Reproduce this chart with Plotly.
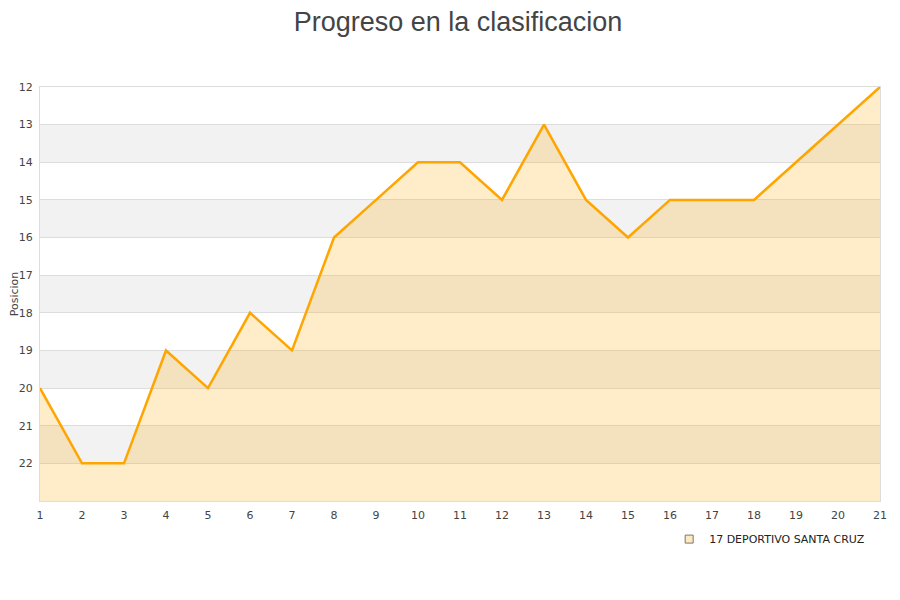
import plotly.graph_objects as go

jornadas = list(range(1, 22))
posiciones = [20, 22, 22, 19, 20, 18, 19, 16, 15, 14, 14, 15, 13, 15, 16, 15, 15, 15, 14, 13, 12]
equipo = "17 DEPORTIVO SANTA CRUZ"
fondo = 23

fig = go.Figure()

# alternating grey bands
for y0 in [13, 15, 17, 19, 21]:
    fig.add_shape(type="rect", xref="paper", yref="y", x0=0, x1=1, y0=y0, y1=y0 + 1,
                  fillcolor="#f2f2f2", line_width=0, layer="below")

# baseline for the area
fig.add_trace(go.Scatter(x=jornadas, y=[fondo] * len(jornadas), mode="lines",
                         line=dict(width=0), showlegend=False, hoverinfo="skip"))
fig.add_trace(go.Scatter(x=jornadas, y=posiciones, mode="lines", fill="tonexty",
                         fillcolor="rgba(255,165,0,0.21)",
                         line=dict(color="#ffa500", width=2.5), showlegend=False))
# legend entry
fig.add_trace(go.Scatter(x=[None], y=[None], mode="markers", name=equipo,
                         marker=dict(symbol="square", size=8, color="#ffe9bf",
                                     line=dict(color="#777777", width=1))))

fig.update_layout(
    width=900, height=600,
    paper_bgcolor="white", plot_bgcolor="white",
    margin=dict(l=32, r=28, t=79, b=107),
    title=dict(text="Progreso en la clasificacion", x=0.5, xanchor="center",
               y=0.993, yanchor="top", pad=dict(t=0),
               font=dict(family="Liberation Sans", size=27, color="#444444")),
    font=dict(family="DejaVu Sans", size=11, color="#444444"),
    legend=dict(orientation="h", x=0.749, y=-0.057, xanchor="left", yanchor="top",
                font=dict(size=11, color="#222222"), bgcolor="rgba(0,0,0,0)"),
    xaxis=dict(range=[1, 21], tickmode="array", tickvals=jornadas, showgrid=False,
               showline=True, linecolor="#dddddd", linewidth=1, mirror=True,
               zeroline=False, ticks="", tickfont=dict(size=11), automargin=False,
               ticklabelstandoff=4),
    yaxis=dict(range=[fondo, 12], tickmode="array", tickvals=list(range(12, 23)),
               showgrid=True, gridcolor="#dddddd", gridwidth=1,
               showline=True, linecolor="#dddddd", linewidth=1, mirror=True,
               zeroline=False, ticks="", tickfont=dict(size=11), automargin=False,
               ticklabelstandoff=4,
               title=dict(text="Posicion", font=dict(size=11), standoff=10)),
)

fig.write_html("out.html")
